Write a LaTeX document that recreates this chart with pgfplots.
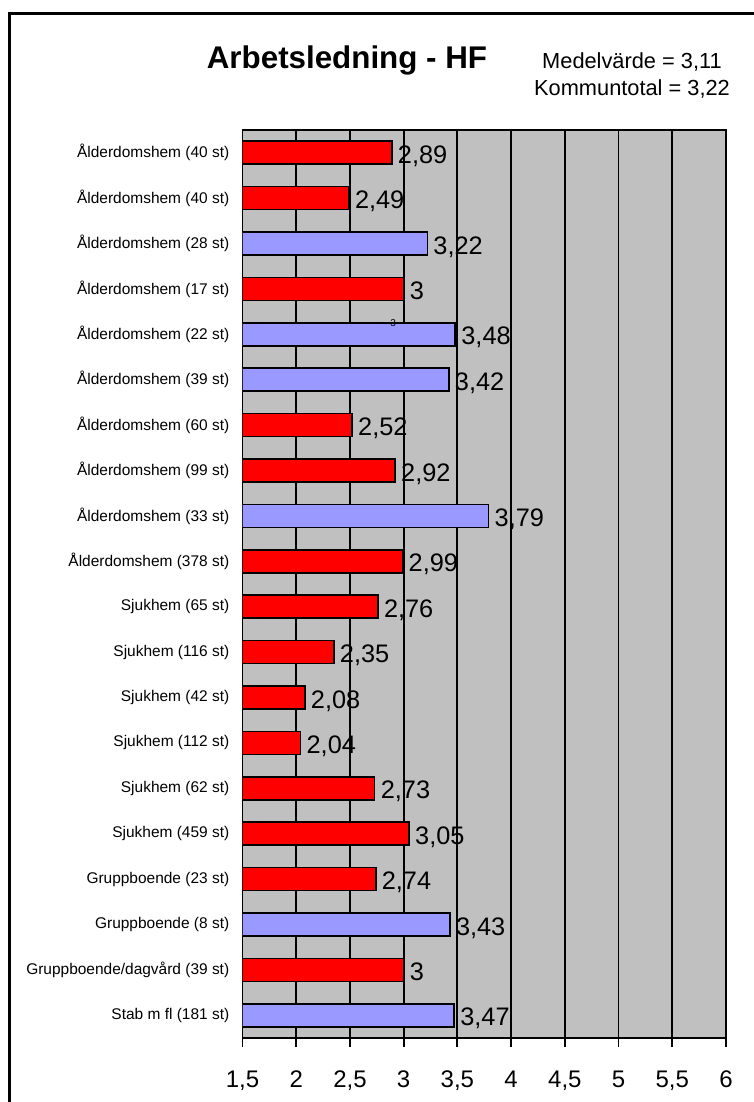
\documentclass[border=0pt]{standalone}
\usepackage{fontspec}
\setmainfont{Liberation Sans}
\usepackage{pgfplots}
\pgfplotsset{compat=1.18}
\definecolor{barred}{RGB}{255,0,0}
\definecolor{barblue}{RGB}{153,153,255}
\definecolor{plotgray}{RGB}{192,192,192}
\begin{document}
\begin{tikzpicture}
\useasboundingbox (0,0) rectangle (564.75pt,826.5pt);
\draw[line width=2.25pt] (7.125pt,-20pt) -- (7.125pt,816pt) -- (600pt,816pt);
\node[anchor=base, inner sep=0pt, font=\fontsize{23.5}{27}\selectfont\bfseries] at (260.25pt,775.3pt) {Arbetsledning - HF};
\node[anchor=base, inner sep=0pt, font=\fontsize{16.35}{19}\selectfont] at (474pt,775.3pt) {Medelvärde = 3,11};
\node[anchor=base, inner sep=0pt, font=\fontsize{16.35}{19}\selectfont] at (474pt,755pt) {Kommuntotal = 3,22};
\begin{axis}[
  at={(181.875pt,48pt)}, anchor=south west,
  scale only axis, width=362.625pt, height=681pt,
  xmin=1.5, xmax=6, ymin=-0.5, ymax=19.5, y dir=reverse,
  xbar, bar width=17.25pt, bar shift=0pt,
  axis background/.style={fill=plotgray},
  xmajorgrids, grid style={black, line width=1.35pt},
  axis line style={line width=1.4pt},
  xtick={1.5,2,2.5,3,3.5,4,4.5,5,5.5,6}, xtick pos=bottom,
  tick align=outside, major tick length=6.75pt,
  xtick style={black, line width=1.35pt},
  /pgf/number format/use comma,
  /pgf/number format/assume math mode=true,
  xticklabel style={font=\fontsize{18}{20}\selectfont, anchor=base, yshift=-30pt},
  ytick={0,...,19}, ytick style={draw=none},
  yticklabels={Ålderdomshem (40 st),Ålderdomshem (40 st),Ålderdomshem (28 st),Ålderdomshem (17 st),Ålderdomshem (22 st),Ålderdomshem (39 st),Ålderdomshem (60 st),Ålderdomshem (99 st),Ålderdomshem (33 st),Ålderdomshem (378 st),Sjukhem (65 st),Sjukhem (116 st),Sjukhem (42 st),Sjukhem (112 st),Sjukhem (62 st),Sjukhem (459 st),Gruppboende (23 st),Gruppboende (8 st),Gruppboende/dagvård (39 st),Stab m fl (181 st)},
  yticklabel style={font=\fontsize{11.6}{13}\selectfont, anchor=east, inner sep=0pt, xshift=-3pt},
  point meta=x,
  nodes near coords={\pgfmathprintnumber[use comma,fixed,precision=2]{\pgfplotspointmeta}},
  every node near coord/.append style={font=\fontsize{19}{21}\selectfont, anchor=base west, inner sep=0pt, xshift=4pt, yshift=-8pt, text=black},
]
\addplot[fill=barred, draw=black, line width=1.2pt] coordinates {
(2.89,0) (2.49,1) (3,3) (2.52,6) (2.92,7) (2.99,9) (2.76,10) (2.35,11) (2.08,12) (2.04,13) (2.73,14) (3.05,15) (2.74,16) (3,18)
};
\addplot[fill=barblue, draw=black, line width=1.2pt] coordinates {
(3.22,2) (3.48,4) (3.42,5) (3.79,8) (3.43,17) (3.47,19)
};
\node[font=\fontsize{7.5}{9}\selectfont, inner sep=0pt] at (axis cs:2.903,3.744) {3};
\end{axis}
\end{tikzpicture}
\end{document}
